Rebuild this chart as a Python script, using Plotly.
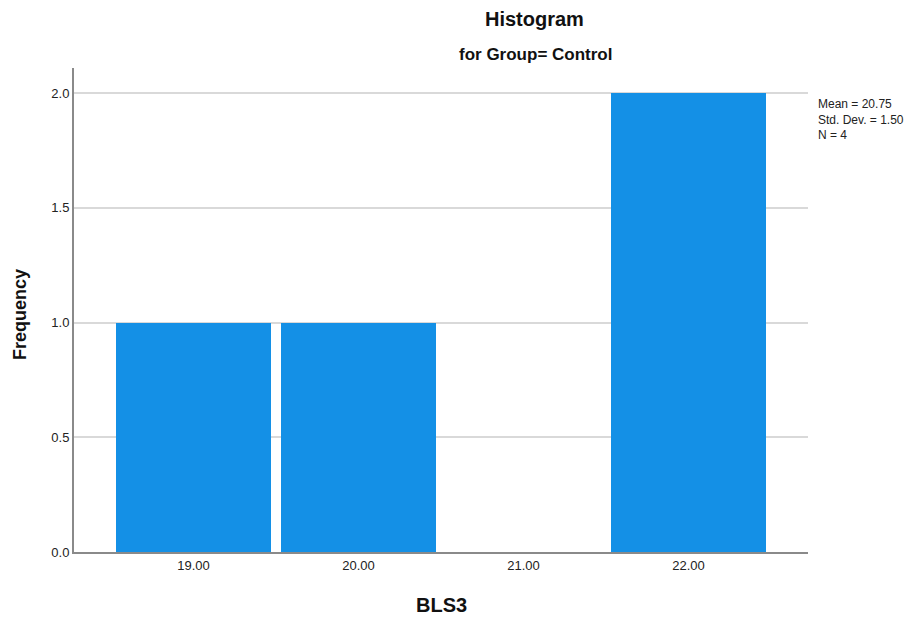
import plotly.graph_objects as go

# Histogram of BLS3 for the Control group
bin_centers = [19, 20, 21, 22]
frequency = [1, 1, 0, 2]
tick_labels = ["19.00", "20.00", "21.00", "22.00"]
y_ticks = [0, 0.5, 1.0, 1.5, 2.0]
y_tick_labels = ["0.0", "0.5", "1.0", "1.5", "2.0"]
stats_lines = ["Mean = 20.75", "Std. Dev. = 1.50", "N = 4"]

W, H = 924, 625
L, R, T, B = 74, 116, 68, 73

fig = go.Figure(go.Bar(
    x=bin_centers, y=frequency,
    marker=dict(color="#1490E6", line=dict(width=0)),
    width=0.94,
    hoverinfo="x+y",
))

sans = "Liberation Sans, Arial, sans-serif"
fig.update_layout(
    width=W, height=H,
    margin=dict(l=L, r=R, t=T, b=B),
    paper_bgcolor="white", plot_bgcolor="white",
    showlegend=False,
    font=dict(family=sans, color="#222"),
    xaxis=dict(
        range=[18.276, 22.724],
        tickmode="array", tickvals=bin_centers, ticktext=tick_labels,
        tickfont=dict(size=13, color="#222"),
        showgrid=False, zeroline=False,
        showline=True, linecolor="#8a8a8a", linewidth=2,
        ticks="", ticklen=0,
    ),
    yaxis=dict(
        range=[0, 2.109],
        tickmode="array", tickvals=y_ticks, ticktext=y_tick_labels,
        tickfont=dict(size=13, color="#222"),
        showgrid=True, gridcolor="#d9d9d9", gridwidth=2,
        zeroline=False,
        showline=True, linecolor="#8a8a8a", linewidth=2,
        ticks="", ticklen=0,
    ),
    bargap=0,
)

plot_w = W - L - R
plot_h = H - T - B

def px(xp):
    return (xp - L) / plot_w

def py(yp):
    return (H - B - yp) / plot_h

annotations = [
    dict(text="<b>Histogram</b>", x=px(534), y=py(19), font=dict(size=20, color="#111")),
    dict(text="<b>for Group= Control</b>", x=px(535), y=py(55), font=dict(size=17, color="#111")),
    dict(text="<b>Frequency</b>", x=px(20), y=py(315), textangle=-90,
         font=dict(size=18, color="#111")),
    dict(text="<b>BLS3</b>", x=px(441), y=py(605), font=dict(size=20, color="#111")),
    dict(text="<br>".join(stats_lines), x=px(816), y=py(95), xanchor="left", yanchor="top",
         align="left", font=dict(size=12, color="#222")),
]
for a in annotations:
    a.setdefault("xanchor", "center")
    a.setdefault("yanchor", "middle")
    a.update(xref="paper", yref="paper", showarrow=False)
fig.update_layout(annotations=annotations)

fig.write_html("out.html")
